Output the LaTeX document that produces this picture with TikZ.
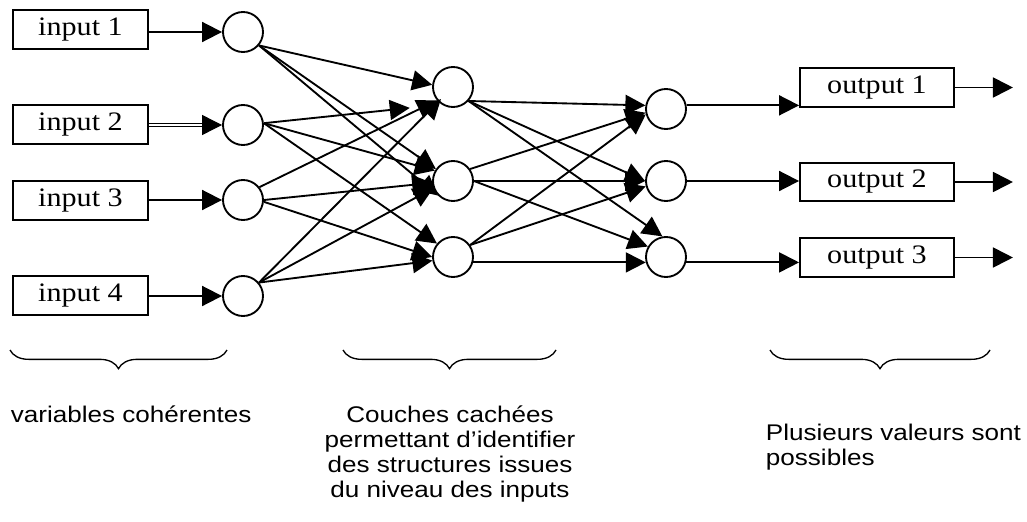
\documentclass[tikz,border=0pt]{standalone}
\usepackage{fontspec}
\setmainfont{Liberation Serif}[FakeStretch=1.13]
\newfontfamily\legendfont{Liberation Sans}[FakeStretch=1.15]
\usetikzlibrary{arrows.meta,decorations.pathreplacing,positioning}

\begin{document}
\begin{tikzpicture}[x=0.75pt,y=-0.75pt,line width=1.4pt,
 box/.style={draw,minimum width=101pt,minimum height=29pt,inner sep=0pt,font=\fontsize{20}{24}\selectfont},
 outbox/.style={box,minimum width=115.5pt},
 neuron/.style={draw,circle,minimum size=30pt,inner sep=0pt},
 conn/.style={-{Triangle[length=15pt,width=15pt]}},
 legend/.style={inner sep=0pt,font=\legendfont\fontsize{17}{18.75}\selectfont},
 accolade/.style={line width=1pt,decorate,decoration={brace,mirror,amplitude=14pt}}]

\useasboundingbox (0,0) rectangle (1027,521);

 \foreach \i/\yb/\yc in {1/29.5/32,2/124.5/125,3/200.5/200,4/295.5/296} {
  \node[box] (in\i) at (80.5,\yb) {input \i};
  \node[neuron] (I\i) at (243,\yc) {};
 }
 \foreach \i/\y in {1/87,2/181,3/257} {
  \node[neuron] (H\i) at (453,\y) {};
 }
 \foreach \i/\yc/\yb in {1/109/87.5,2/181/182,3/257/257.5} {
  \node[neuron] (O\i) at (666,\yc) {};
  \node[outbox] (out\i) at (877,\yb) {output \i};
  \coordinate[right=43.5pt of out\i] (end\i);
  \draw[conn] (out\i) -- (end\i);
 }

\draw[conn] (I1 -| in1.east) -- (I1);
\draw[conn,double,double distance=1pt,line width=0.8pt] (I2 -| in2.east) -- (I2);
\draw[conn] (I3 -| in3.east) -- (I3);
\draw[conn] (I4 -| in4.east) -- (I4);

 \foreach \a/\b in {I1.-40/H1.174,I1.-40/H2.145,I1.-40/H2.224,I2.5/H2.150,I2.5/H3.140,
  I3.38/H1.220,I3.0/H2.185,I3.-5/H3.180,I4.40/H2.200,I4.40/H3.190} {
  \draw[conn] (\a) -- (\b);
 }
\draw[conn,shorten >=24pt] (I2.5) -- (H1.237);
\draw[conn,shorten >=12.8pt] (I4.40) -- (H1.center);

 \foreach \a/\b in {H1.-42/O1.170,H1.-42/O2.180,H1.-42/O3.100,H2.35/O1.190,H2.0/O2.180,
  H2.0/O3.150,H3.35/O1.195,H3.35/O2.195,H3.-15/O3.195} {
  \draw[conn] (\a) -- (\b);
 }

\draw[conn] (O1.10) -- (O1.10 -| out1.west);
\draw[conn] (O2) -- (O2 -| out2.west);
\draw[conn] (O3.-15) -- (O3.-15 -| out3.west);

\draw[accolade] (10,350) -- (227,350);
\draw[accolade] (343,350) -- (556,350);
\draw[accolade] (770,350) -- (990,350);

\node[legend,anchor=north west,align=left] (var) at (10,405) {variables cohérentes};
\node[legend,anchor=north,align=center] (couches) at (450,405) {Couches cachées\\permettant d’identifier\\des structures issues\\du niveau des inputs};
\node[legend,anchor=north west,align=left] (valeurs) at (765,423) {Plusieurs valeurs sont\\possibles};

\end{tikzpicture}
\end{document}
